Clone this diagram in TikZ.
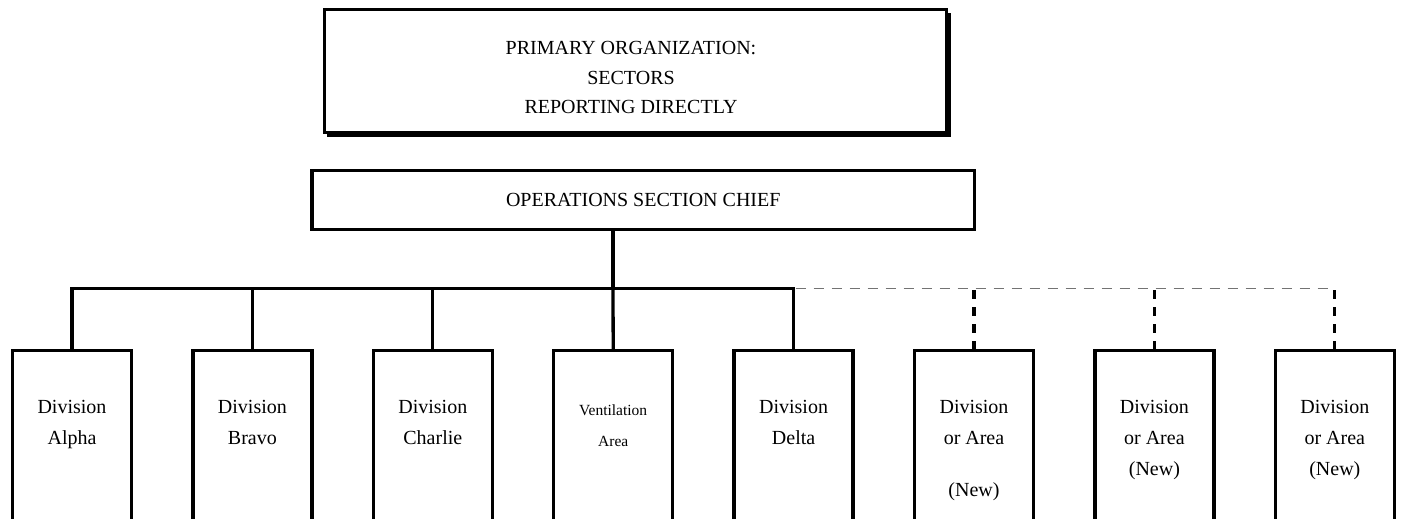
\documentclass[tikz,border=0pt]{standalone}
\usepackage{fontspec}
\setmainfont{Liberation Serif}
\usetikzlibrary{calc}

\tikzset{
  frame/.style={draw=black, line width=3.3pt, fill=white, inner sep=0pt},
  divbox/.style={frame, anchor=north, minimum width=119pt, minimum height=220pt},
  divtext/.style={anchor=north, align=center, inner sep=0pt, font=\fontsize{20}{31}\selectfont},
  smalltext/.style={anchor=north, align=center, inner sep=0pt, font=\fontsize{15.5}{31}\selectfont},
  conn/.style={draw=black, line width=3.3pt},
  newbus/.style={draw=black!55, line width=1.5pt, dash pattern=on 10pt off 8pt},
  newlink/.style={draw=black, line width=3.3pt, dash pattern=on 8.5pt off 8.5pt}
}

\begin{document}
\begin{tikzpicture}[x=1pt, y=-1pt]
  \useasboundingbox (0,0) rectangle (1401,519);
  \clip (0,0) rectangle (1401,519);

  % top box with its shadow on the right and bottom
  \fill[black] (327,13) rectangle (951,137);
  \node[frame, minimum width=621.6pt, minimum height=122.7pt] (org) at (635.5,71) {};
  \node[divtext, font=\fontsize{20}{29.5}\selectfont] (orgtext) at (631,41.4)
    {PRIMARY ORGANIZATION:\\SECTORS\\REPORTING DIRECTLY};

  % operations section chief
  \node[frame, minimum width=662.5pt, minimum height=59pt,
        font=\fontsize{20}{24}\selectfont] (chief) at (643.25,200) {OPERATIONS SECTION CHIEF};

  % junction on the bus below the chief
  \coordinate (cj) at (613,288.5);

  % division and area boxes
  \node[divbox] (d1) at (72,349) {};
  \node[divbox] (d2) at (252.4,349) {};
  \node[divbox] (d3) at (432.8,349) {};
  \node[divbox] (d4) at (613.2,349) {};
  \node[divbox] (d5) at (793.6,349) {};
  \node[divbox] (d6) at (974,349) {};
  \node[divbox] (d7) at (1154.4,349) {};
  \node[divbox] (d8) at (1334.8,349) {};

  \node[divtext] (t1) at (72,400.3) {Division\\Alpha};
  \node[divtext] (t2) at (252.4,400.3) {Division\\Bravo};
  \node[divtext] (t3) at (432.8,400.3) {Division\\Charlie};
  \node[smalltext] (t4) at (613.2,404.5) {Ventilation\\Area};
  \node[divtext] (t5) at (793.6,400.3) {Division\\Delta};
  \node[divtext] (t6) at (974,400.3) {Division\\or Area\\[21pt](New)};
  \node[divtext] (t7) at (1154.4,400.3) {Division\\or Area\\(New)};
  \node[divtext] (t8) at (1334.8,400.3) {Division\\or Area\\(New)};

  % solid connectors
  \draw[conn] (chief.south -| cj) -- (cj);
  \draw[conn, line join=miter] (d1.north) -- (d1.north |- cj) -- (d5.north |- cj) -- (d5.north);
  \draw[conn] (d2.north |- cj) -- (d2.north);
  \draw[conn] (d3.north |- cj) -- (d3.north);
  \draw[conn] (cj) -- (d4.north);

  % planned additions
  \draw[newbus] ($(d5.north |- cj)+(2,0)$) -- (d8.north |- cj);
  \draw[newlink] ($(d6.north |- cj)+(0,1.5)$) -- (d6.north);
  \draw[newlink] ($(d7.north |- cj)+(0,1.5)$) -- (d7.north);
  \draw[newlink] ($(d8.north |- cj)+(0,1.5)$) -- (d8.north);
\end{tikzpicture}
\end{document}
